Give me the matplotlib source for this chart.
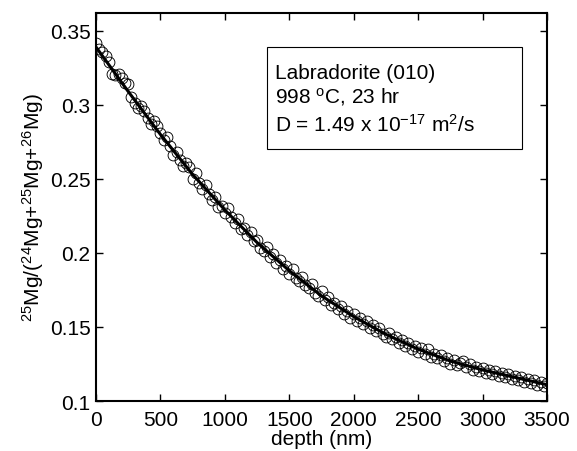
import matplotlib
matplotlib.use("Agg")
import matplotlib.pyplot as plt
from matplotlib.patches import Rectangle

plt.rcParams['font.family'] = ['Liberation Sans', 'DejaVu Sans']
plt.rcParams['mathtext.fontset'] = 'custom'
plt.rcParams['mathtext.rm'] = 'Liberation Sans'
plt.rcParams['mathtext.it'] = 'Liberation Sans:italic'

# measured points (depth in nm, 25Mg fraction)
depth = [0, 25, 50, 75, 100, 125, 150, 175, 200, 225,
         250, 275, 300, 325, 350, 375, 400, 425, 450, 475,
         500, 525, 550, 575, 600, 625, 650, 675, 700, 725,
         750, 775, 800, 825, 850, 875, 900, 925, 950, 975,
         1000, 1025, 1050, 1075, 1100, 1125, 1150, 1175, 1200, 1225,
         1250, 1275, 1300, 1325, 1350, 1375, 1400, 1425, 1450, 1475,
         1500, 1525, 1550, 1575, 1600, 1625, 1650, 1675, 1700, 1725,
         1750, 1775, 1800, 1825, 1850, 1875, 1900, 1925, 1950, 1975,
         2000, 2025, 2050, 2075, 2100, 2125, 2150, 2175, 2200, 2225,
         2250, 2275, 2300, 2325, 2350, 2375, 2400, 2425, 2450, 2475,
         2500, 2525, 2550, 2575, 2600, 2625, 2650, 2675, 2700, 2725,
         2750, 2775, 2800, 2825, 2850, 2875, 2900, 2925, 2950, 2975,
         3000, 3025, 3050, 3075, 3100, 3125, 3150, 3175, 3200, 3225,
         3250, 3275, 3300, 3325, 3350, 3375, 3400, 3425, 3450, 3475,
         3500]
ratio = [0.342, 0.338, 0.336, 0.333, 0.329, 0.321, 0.320, 0.321, 0.318, 0.315,
         0.314, 0.305, 0.301, 0.298, 0.299, 0.296, 0.291, 0.287, 0.289, 0.286,
         0.281, 0.276, 0.278, 0.272, 0.266, 0.268, 0.263, 0.259, 0.261, 0.258,
         0.250, 0.254, 0.247, 0.243, 0.246, 0.240, 0.236, 0.238, 0.231, 0.232,
         0.227, 0.230, 0.224, 0.220, 0.223, 0.216, 0.217, 0.212, 0.214, 0.208,
         0.209, 0.203, 0.201, 0.204, 0.197, 0.199, 0.193, 0.195, 0.189, 0.191,
         0.186, 0.189, 0.183, 0.181, 0.184, 0.178, 0.176, 0.179, 0.173, 0.171,
         0.174, 0.168, 0.170, 0.165, 0.166, 0.162, 0.164, 0.159, 0.161, 0.156,
         0.159, 0.154, 0.156, 0.152, 0.154, 0.149, 0.151, 0.147, 0.149, 0.145,
         0.143, 0.146, 0.142, 0.143, 0.139, 0.141, 0.137, 0.139, 0.135, 0.137,
         0.133, 0.136, 0.132, 0.135, 0.130, 0.132, 0.129, 0.131, 0.127, 0.129,
         0.125, 0.128, 0.124, 0.126, 0.127, 0.123, 0.125, 0.121, 0.123, 0.120,
         0.122, 0.119, 0.121, 0.118, 0.120, 0.117, 0.119, 0.116, 0.118, 0.115,
         0.117, 0.114, 0.116, 0.113, 0.115, 0.112, 0.114, 0.111, 0.113, 0.110,
         0.112]

# fitted diffusion curve
fit_depth = [0, 250, 500, 750, 1000, 1250, 1500, 1750, 2000, 2250, 2500, 2750, 3000, 3250, 3500]
fit_ratio = [0.339, 0.309, 0.280, 0.253, 0.229, 0.207, 0.188, 0.171, 0.157, 0.145, 0.135, 0.127, 0.121, 0.116, 0.111]

xticks = [0, 500, 1000, 1500, 2000, 2500, 3000, 3500]
yticks = [0.1, 0.15, 0.2, 0.25, 0.3, 0.35]
ytick_labels = ['0.1', '0.15', '0.2', '0.25', '0.3', '0.35']

box_lines = ['Labradorite (010)',
             r'998 $\mathregular{^{o}}$C, 23 hr',
             r'D = 1.49 x 10$\mathregular{^{-17}}$ m$\mathregular{^{2}}$/s']

fs = 15

fig = plt.figure(figsize=(5.77, 4.52), dpi=100)
ax = fig.add_axes([0.1664, 0.1106, 0.7816, 0.8584])

ax.plot(depth, ratio, 'o', mfc='none', mec='black', ms=7.8, mew=0.65)
ax.plot(fit_depth, fit_ratio, '-', color='black', lw=2.2)

ax.set_xlim(0, 3500)
ax.set_ylim(0.1, 0.362)
ax.set_xticks(xticks)
ax.set_yticks(yticks)
ax.set_yticklabels(ytick_labels)
ax.tick_params(direction='in', top=True, right=True, length=5, width=1, labelsize=fs)
ax.tick_params(axis='x', pad=6.5)
ax.tick_params(axis='y', pad=4)
for s in ax.spines.values():
    s.set_linewidth(1.5)

ax.set_xlabel('depth (nm)', fontsize=fs, labelpad=0)
ax.set_ylabel(r'$\mathregular{^{25}Mg/(^{24}Mg{+}^{25}Mg{+}^{26}Mg)}$', fontsize=fs, labelpad=3)

# annotation box
ax.add_patch(Rectangle((0.379, 0.6495), 0.5656, 0.2625, transform=ax.transAxes,
                       fc='white', ec='black', lw=0.8, zorder=3))
for line, yb in zip(box_lines, [0.8317, 0.7700, 0.6966]):
    ax.text(0.397, yb, line, transform=ax.transAxes, fontsize=fs,
            va='baseline', ha='left', zorder=4)

fig.savefig('out.png', dpi=100)
